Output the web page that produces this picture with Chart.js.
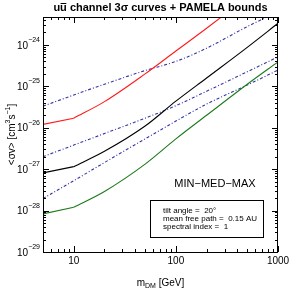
<!DOCTYPE html>
<html>
<head>
<meta charset="utf-8">
<script src="https://cdn.jsdelivr.net/npm/chart.js@4.4.1/dist/chart.umd.min.js"></script>
<style>
  html, body { margin: 0; padding: 0; background: #fff; }
  #wrap { width: 295px; height: 295px; }
</style>
</head>
<body>
<div id="wrap"><canvas id="c" width="295" height="295"></canvas></div>
<script>
// masses in GeV
const masses = [5, 10, 20, 50, 100, 200, 500, 1000];

// log10 of <sigma v>
const curveMin = [-28.08, -27.92, -27.54, -26.88, -26.27, -25.70, -24.95, -24.41];
const curveMed = [-27.09, -26.94, -26.57, -25.96, -25.36, -24.80, -24.06, -23.48];
const curveMax = [-25.92, -25.77, -25.37, -24.70, -24.15, -23.60, -22.85, -22.30];

// PAMELA bounds (dash-dot)
const boundLow  = [-27.71, -27.28, -26.84, -26.27, -25.84, -25.43, -24.97, -24.61];
const boundMid  = [-26.70, -26.42, -26.14, -25.77, -25.47, -25.12, -24.65, -24.29];
const boundHigh = [-25.48, -25.21, -24.95, -24.62, -24.40, -24.08, -23.56, -23.20];

const xTickLabels = [10, 100, 1000];
const yTickExps = [-29, -28, -27, -26, -25, -24];

const xMin = 5, xMax = 1000;
const yMin = 1e-29, yMax = 4.7e-24;

const FONT = '"Liberation Sans", Arial, Helvetica, sans-serif';

function toPoints(logs, from, to) {
  const pts = masses.map((m, i) => ({ x: m, y: Math.pow(10, logs[i]) }));
  return pts.slice(from, to);
}

// the solid curves have a corner at 10 GeV, smooth after it
function solid(label, logs, color) {
  const base = { borderColor: color, borderWidth: 1.1, pointRadius: 0, fill: false };
  return [
    Object.assign({ label: label + ' low', data: toPoints(logs, 0, 2), tension: 0 }, base),
    Object.assign({ label, data: toPoints(logs, 1), cubicInterpolationMode: 'monotone' }, base)
  ];
}
function dashdot(label, logs) {
  return { label, data: toPoints(logs, 0), borderColor: '#3434a8', borderWidth: 1.1,
           borderDash: [3, 2, 1, 2], pointRadius: 0, fill: false, cubicInterpolationMode: 'monotone' };
}

function isInt(v) {
  const e = Math.floor(Math.log10(v) + 1e-9);
  const m = v / Math.pow(10, e);
  return Math.abs(m - Math.round(m)) < 1e-6;
}
function isDecade(v) {
  const l = Math.log10(v);
  return Math.abs(l - Math.round(l)) < 1e-6;
}

// inward ticks on all four sides, tick labels, titles and the note box
const decor = {
  id: 'decor',
  afterDraw(chart) {
    const ctx = chart.ctx;
    const a = chart.chartArea;
    const xs = chart.scales.x, ys = chart.scales.y;
    ctx.save();
    ctx.strokeStyle = '#000';
    ctx.lineWidth = 1;
    ctx.strokeRect(a.left + 0.5, a.top + 0.5, a.right - a.left - 1, a.bottom - a.top);

    ctx.beginPath();
    xs.ticks.forEach(t => {
      if (!isInt(t.value)) return;
      const px = Math.round(xs.getPixelForValue(t.value)) + 0.5;
      const len = isDecade(t.value) ? 6 : 3;
      ctx.moveTo(px, a.bottom); ctx.lineTo(px, a.bottom - len);
      ctx.moveTo(px, a.top); ctx.lineTo(px, a.top + len);
    });
    ys.ticks.forEach(t => {
      if (!isInt(t.value)) return;
      const py = Math.round(ys.getPixelForValue(t.value)) + 0.5;
      const len = isDecade(t.value) ? 6 : 3;
      ctx.moveTo(a.left, py); ctx.lineTo(a.left + len, py);
      ctx.moveTo(a.right, py); ctx.lineTo(a.right - len, py);
    });
    ctx.stroke();

    // x tick labels
    ctx.fillStyle = '#000';
    ctx.font = '10px ' + FONT;
    ctx.textAlign = 'center';
    ctx.textBaseline = 'middle';
    xTickLabels.forEach(v => {
      ctx.fillText(String(v), xs.getPixelForValue(v), a.bottom + 9);
    });

    // y tick labels with superscripts
    yTickExps.forEach(e => {
      const py = ys.getPixelForValue(Math.pow(10, e));
      ctx.font = '7px ' + FONT;
      const sup = '\u2212' + Math.abs(e);
      const sw = ctx.measureText(sup).width;
      ctx.textAlign = 'left';
      ctx.fillText(sup, a.left - 3 - sw, py - 5);
      ctx.font = '10px ' + FONT;
      const bw = ctx.measureText('10').width;
      ctx.fillText('10', a.left - 3 - sw - bw, py + 1);
    });

    // title
    ctx.font = 'bold 11px ' + FONT;
    ctx.textAlign = 'left';
    const t1 = 'uu', t2 = ' channel 3\u03c3 curves + PAMELA bounds';
    const w1 = ctx.measureText(t1).width, w2 = ctx.measureText(t2).width;
    const uw = ctx.measureText('u').width;
    let tx = (a.left + a.right) / 2 - (w1 + w2) / 2;
    ctx.fillText(t1 + t2, tx, 8);
    ctx.beginPath();
    ctx.moveTo(tx + uw + 0.5, 3.5); ctx.lineTo(tx + 2 * uw - 0.5, 3.5);
    ctx.stroke();

    // x axis title
    ctx.font = '10px ' + FONT;
    const mW = ctx.measureText('m').width;
    ctx.font = '7px ' + FONT;
    const dW = ctx.measureText('DM').width;
    ctx.font = '10px ' + FONT;
    const gW = ctx.measureText(' [GeV]').width;
    let xx = (a.left + a.right) / 2 - (mW + dW + gW) / 2;
    const xy = 283;
    ctx.fillText('m', xx, xy);
    ctx.font = '7px ' + FONT;
    ctx.fillText('DM', xx + mW, xy + 3);
    ctx.font = '10px ' + FONT;
    ctx.fillText(' [GeV]', xx + mW + dW, xy);

    // y axis title, rotated
    ctx.save();
    ctx.translate(12, (a.top + a.bottom) / 2);
    ctx.rotate(-Math.PI / 2);
    const parts = [['<\u03c3v> [cm', 10, 0], ['3', 7, -4], ['s', 10, 0], ['\u22121', 7, -4], [']', 10, 0]];
    let total = 0;
    parts.forEach(p => { ctx.font = p[1] + 'px ' + FONT; total += ctx.measureText(p[0]).width; });
    let px = -total / 2;
    parts.forEach(p => {
      ctx.font = p[1] + 'px ' + FONT;
      ctx.fillText(p[0], px, p[2]);
      px += ctx.measureText(p[0]).width;
    });
    ctx.restore();

    // note
    const bx = a.left + 107, by = a.top + 183, bwid = 113, bh = 37;
    ctx.font = '11px ' + FONT;
    ctx.textAlign = 'center';
    ctx.fillText('MIN\u2212MED\u2212MAX', bx + 65, a.top + 167);
    ctx.fillStyle = '#fff';
    ctx.fillRect(bx, by, bwid, bh);
    ctx.strokeRect(bx + 0.5, by + 0.5, bwid, bh);
    ctx.fillStyle = '#000';
    ctx.font = '8px ' + FONT;
    ctx.textAlign = 'left';
    ctx.fillText('tilt angle =  20\u00b0', bx + 13, by + 11);
    ctx.fillText('mean free path =  0.15 AU', bx + 13, by + 19);
    ctx.fillText('spectral index =  1', bx + 13, by + 27);
    ctx.restore();
  }
};

new Chart(document.getElementById('c'), {
  type: 'line',
  data: {
    datasets: [
      ...solid('MAX', curveMax, '#ff1a1a'),
      ...solid('MED', curveMed, '#000000'),
      ...solid('MIN', curveMin, '#1c7a1c'),
      dashdot('PAMELA MAX', boundHigh),
      dashdot('PAMELA MED', boundMid),
      dashdot('PAMELA MIN', boundLow)
    ]
  },
  options: {
    responsive: false,
    animation: false,
    layout: { padding: { top: 17, right: 17, left: 0, bottom: 0 } },
    plugins: { legend: { display: false }, title: { display: false }, tooltip: { enabled: false } },
    scales: {
      x: {
        type: 'logarithmic', min: xMin, max: xMax,
        grid: { display: false }, border: { display: false },
        ticks: { display: false, autoSkip: false },
        afterFit(s) { s.height = 43; }
      },
      y: {
        type: 'logarithmic', min: yMin, max: yMax,
        grid: { display: false }, border: { display: false },
        ticks: { display: false, autoSkip: false },
        afterFit(s) { s.width = 43; }
      }
    }
  },
  plugins: [decor]
});
</script>
</body>
</html>
